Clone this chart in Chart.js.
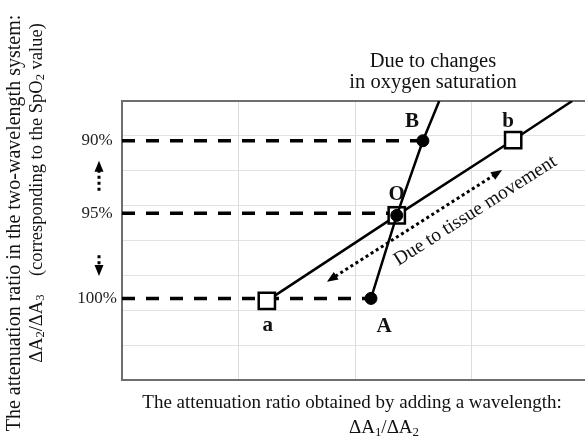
<!DOCTYPE html>
<html>
<head>
<meta charset="utf-8">
<script src="https://cdn.jsdelivr.net/npm/chart.js@4.4.1/dist/chart.umd.min.js"></script>
<style>
  html, body { margin: 0; padding: 0; background: #fff; }
</style>
</head>
<body>
<canvas id="chart" width="585" height="440"></canvas>
<script>
// SpO2 levels shown on the left axis
const levelLabels = ["100%", "95%", "90%"];
const levelValues = [2.34, 4.78, 6.86];

// line through A - O - B (change of oxygen saturation)
const oxygenNames = ["A", "O", "B", ""];
const oxygenX = [2.135, 2.356, 2.58, 2.72];
const oxygenY = [2.34, 4.72, 6.86, 8];

// line through a - O - b (tissue movement)
const tissueNames = ["a", "", "b", ""];
const tissueX = [1.242, 2.356, 3.354, 3.86];
const tissueY = [2.27, 4.72, 6.88, 8];

// dashed guides end at A, O and B
const guideEndX = [2.135, 2.356, 2.58];

// dotted double arrow along the tissue line
const moveArrowX = [1.757, 3.259];
const moveArrowY = [2.82, 6.02];

// short dotted arrows next to the SpO2 labels
const upArrowY = [5.43, 6.29];
const downArrowY = [3.58, 2.98];

const xGrid = [0, 1, 2, 3];
const serif = "'Liberation Serif', 'Times New Roman', serif";

const guideSets = levelValues.map((v, i) => ({
    data: [{x: 0, y: v}, {x: guideEndX[i], y: v}],
    borderColor: "#000",
    borderWidth: 3.5,
    borderDash: [13, 11],
    pointRadius: 0
}));

const pointsOf = (xs, ys) => xs.map((x, i) => ({x: x, y: ys[i]}));

// draws text where "_n" becomes a subscript n
const drawRich = (ctx, text, cx, cy, size, bold) => {
    const parts = text.split(/_(\d)/);
    const fontOf = (sub) => (bold ? "bold " : "") + (sub ? size * 0.68 : size) + "px " + serif;
    const widths = parts.map((p, i) => {
        ctx.font = fontOf(i % 2 == 1);
        return ctx.measureText(p).width;
    });
    let x = cx - widths.reduce((a, b) => a + b, 0) / 2;
    parts.forEach((p, i) => {
        ctx.font = fontOf(i % 2 == 1);
        ctx.fillText(p, x, cy + (i % 2 == 1 ? size * 0.22 : 0));
        x += widths[i];
    });
};

const arrowHead = (ctx, fromX, fromY, toX, toY, len, half) => {
    const ang = Math.atan2(toY - fromY, toX - fromX);
    ctx.save();
    ctx.translate(toX, toY);
    ctx.rotate(ang);
    ctx.setLineDash([]);
    ctx.beginPath();
    ctx.moveTo(0, 0);
    ctx.lineTo(-len, -half);
    ctx.lineTo(-len, half);
    ctx.closePath();
    ctx.fill();
    ctx.restore();
};

const dottedArrow = (ctx, x1, y1, x2, y2, headAtStart) => {
    const ang = Math.atan2(y2 - y1, x2 - x1);
    const hl = 10;
    ctx.save();
    ctx.strokeStyle = "#000";
    ctx.fillStyle = "#000";
    ctx.lineWidth = 3;
    ctx.setLineDash([3, 3]);
    ctx.beginPath();
    const sx = headAtStart ? x1 + Math.cos(ang) * hl : x1;
    const sy = headAtStart ? y1 + Math.sin(ang) * hl : y1;
    ctx.moveTo(sx, sy);
    ctx.lineTo(x2 - Math.cos(ang) * hl, y2 - Math.sin(ang) * hl);
    ctx.stroke();
    arrowHead(ctx, x1, y1, x2, y2, hl + 1, 4.5);
    if (headAtStart) arrowHead(ctx, x2, y2, x1, y1, hl + 1, 4.5);
    ctx.restore();
};

const labelOffsets = {A: [13, 28], B: [-11, -19], O: [0, -21], a: [1, 25], b: [-5, -18]};

const annotations = {
    id: "annotations",
    afterDatasetsDraw(chart) {
        const {ctx, chartArea} = chart;
        const xs = chart.scales.x;
        const ys = chart.scales.y;
        ctx.save();
        ctx.fillStyle = "#111";
        ctx.textAlign = "left";
        ctx.textBaseline = "middle";

        // point names
        const names = oxygenNames.map((n, i) => [n, oxygenX[i], oxygenY[i]])
            .concat(tissueNames.map((n, i) => [n, tissueX[i], tissueY[i]]));
        for (const [n, x, y] of names) {
            if (!n) continue;
            const off = labelOffsets[n];
            drawRich(ctx, n, xs.getPixelForValue(x) + off[0], ys.getPixelForValue(y) + off[1], 21, true);
        }

        // tissue movement arrow and its text
        const ax1 = xs.getPixelForValue(moveArrowX[0]), ay1 = ys.getPixelForValue(moveArrowY[0]);
        const ax2 = xs.getPixelForValue(moveArrowX[1]), ay2 = ys.getPixelForValue(moveArrowY[1]);
        dottedArrow(ctx, ax1, ay1, ax2, ay2, true);
        const ang = Math.atan2(ay2 - ay1, ax2 - ax1);
        ctx.save();
        ctx.translate(xs.getPixelForValue(3.03), ys.getPixelForValue(4.85));
        ctx.rotate(ang);
        drawRich(ctx, "Due to tissue movement", 0, 0, 19.5, false);
        ctx.restore();

        // arrows beside the SpO2 labels
        const lx = chartArea.left - 23;
        dottedArrow(ctx, lx, ys.getPixelForValue(upArrowY[0]), lx, ys.getPixelForValue(upArrowY[1]), false);
        dottedArrow(ctx, lx, ys.getPixelForValue(downArrowY[0]), lx, ys.getPixelForValue(downArrowY[1]), false);

        // note above the plot
        drawRich(ctx, "Due to changes", 433, 62, 20.5, false);
        drawRich(ctx, "in oxygen saturation", 433, 83, 20.5, false);

        // axis titles
        drawRich(ctx, "The attenuation ratio obtained by adding a wavelength:", 352, 403, 19, false);
        drawRich(ctx, "\u0394A_1/\u0394A_2", 384, 428, 19, false);
        ctx.save();
        ctx.translate(15, 223);
        ctx.rotate(-Math.PI / 2);
        drawRich(ctx, "The attenuation ratio in the two-wavelength system:", 0, 0, 20, false);
        ctx.restore();
        ctx.save();
        ctx.translate(37, 193);
        ctx.rotate(-Math.PI / 2);
        drawRich(ctx, "\u0394A_2/\u0394A_3    (corresponding to the SpO_2 value)", 0, 0, 18.5, false);
        ctx.restore();

        ctx.restore();
    }
};

new Chart(document.getElementById("chart"), {
    type: "line",
    data: {
        datasets: [
            {
                data: pointsOf(oxygenX, oxygenY),
                borderColor: "#000",
                borderWidth: 2.5,
                pointStyle: "circle",
                pointRadius: oxygenNames.map(n => n ? 6 : 0),
                pointBackgroundColor: "#000",
                pointBorderColor: "#000",
                pointBorderWidth: 1
            },
            {
                data: pointsOf(tissueX, tissueY),
                borderColor: "#000",
                borderWidth: 2.5,
                pointStyle: "rect",
                pointRadius: tissueY.map((y, i) => i < 3 ? 11.5 : 0),
                pointBackgroundColor: "#fff",
                pointBorderColor: "#000",
                pointBorderWidth: 2.5
            },
            ...guideSets
        ]
    },
    options: {
        responsive: false,
        animation: false,
        layout: {autoPadding: false, padding: {top: 101, bottom: 60, left: 0, right: 0}},
        plugins: {legend: {display: false}, tooltip: {enabled: false}},
        scales: {
            x: {
                type: "linear",
                min: 0,
                max: 3.97,
                afterBuildTicks: s => { s.ticks = xGrid.map(v => ({value: v})); },
                ticks: {display: false},
                grid: {color: "#dcdcdc", drawTicks: false},
                border: {color: "#6e6e6e", width: 2},
                afterFit: s => { s.height = 0; }
            },
            xTop: {
                type: "linear",
                position: "top",
                min: 0,
                max: 3.97,
                ticks: {display: false},
                grid: {display: false, drawTicks: false},
                border: {color: "#6e6e6e", width: 2},
                afterFit: s => { s.height = 0; }
            },
            y: {
                type: "linear",
                min: 0,
                max: 8,
                weight: 0,
                ticks: {display: false, stepSize: 1},
                grid: {color: "#e2e2e2", drawTicks: false},
                border: {color: "#6e6e6e", width: 2},
                afterFit: s => { s.width = 0; }
            },
            yLevel: {
                type: "linear",
                position: "left",
                min: 0,
                max: 8,
                weight: 1,
                afterBuildTicks: s => { s.ticks = levelValues.map(v => ({value: v})); },
                ticks: {
                    autoSkip: false,
                    crossAlign: "center",
                    padding: 5,
                    color: "#222",
                    font: {family: serif, size: 17},
                    callback: (v) => levelLabels[levelValues.indexOf(v)]
                },
                grid: {display: false, drawTicks: false},
                border: {display: false},
                afterFit: s => { s.width = 122; }
            }
        }
    },
    plugins: [annotations]
});
</script>
</body>
</html>
